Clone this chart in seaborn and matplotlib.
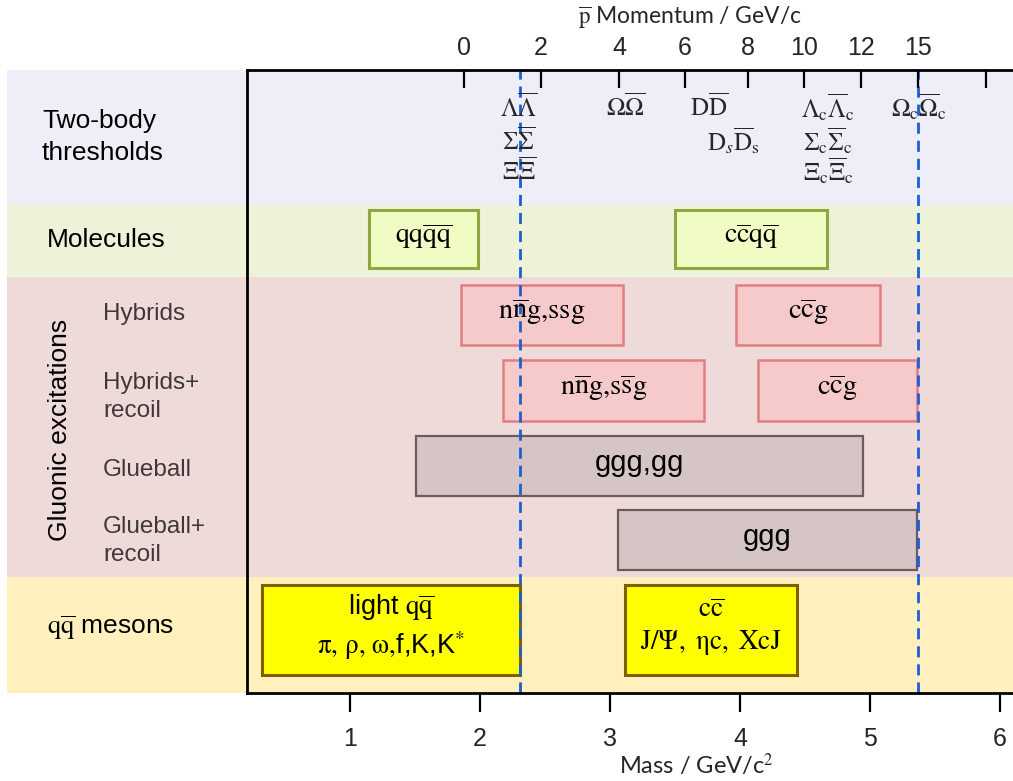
import numpy as np
import matplotlib
matplotlib.use("Agg")
import matplotlib.pyplot as plt
import seaborn as sns
from matplotlib.patches import Rectangle
from matplotlib.transforms import blended_transform_factory

# ---------------- data ----------------
# boxes: label, row, mass range (GeV/c^2), kind
box_labels = [r"$\mathrm{qq\overline{q}\overline{q}}$",
              r"$\mathrm{c\overline{c}q\overline{q}}$",
              r"$\mathrm{n\overline{n}g{,}ssg}$",
              r"$\mathrm{c\overline{c}g}$",
              r"$\mathrm{n\overline{n}g{,}s\overline{s}g}$",
              r"$\mathrm{c\overline{c}g}$",
              "ggg,gg",
              "ggg",
              "light " + r"$\mathrm{q\overline{q}}$" + "\n" + r"$\mathrm{\pi,\,\rho,\,\omega{,}}$" + "f,K,K$^{*}$",
              r"$\mathrm{c\overline{c}}$" + "\n" + r"$\mathrm{J/\Psi,\ \eta c,\ XcJ}$"]
box_rows = ["Molecules", "Molecules", "Hybrids", "Hybrids", "Hybrids+recoil",
            "Hybrids+recoil", "Glueball", "Glueball+recoil", "mesons", "mesons"]
box_start = [1.15, 3.50, 1.855, 3.97, 2.18, 4.14, 1.51, 3.06, 0.325, 3.115]
box_end = [1.985, 4.67, 3.10, 5.08, 3.72, 5.36, 4.95, 5.36, 2.31, 4.44]
box_kind = ["molecule", "molecule", "hybrid", "hybrid", "hybrid", "hybrid",
            "glue", "glue", "meson", "meson"]
box_fontsize = [20, 20, 20.5, 20.5, 20.5, 20.5, 21, 21, 19.5, 19.5]

# two-body threshold labels and their mass positions
thr_labels = [r"$\Lambda\overline{\Lambda}$", r"$\Sigma\overline{\Sigma}$", r"$\Xi\overline{\Xi}$",
              r"$\Omega\overline{\Omega}$", r"$\mathrm{D\overline{D}}$",
              r"$\mathrm{D}_{s}\overline{\mathrm{D}}_{\mathrm{s}}$",
              r"$\Lambda_{\mathrm{c}}\overline{\Lambda}_{\mathrm{c}}$",
              r"$\Sigma_{\mathrm{c}}\overline{\Sigma}_{\mathrm{c}}$",
              r"$\Xi_{\mathrm{c}}\overline{\Xi}_{\mathrm{c}}$",
              r"$\Omega_{\mathrm{c}}\overline{\Omega}_{\mathrm{c}}$"]
thr_mass = [2.30, 2.30, 2.30, 3.12, 3.76, 3.95, 4.68, 4.68, 4.68, 5.38]
thr_line = [0, 1, 2, 0, 0, 1, 0, 1, 2, 0]

# beam-momentum axis (GeV/c) and mass where each tick sits
p_labels = ["0", "2", "4", "6", "8", "10", "12", "15", ""]
p_mass = [1.877, 2.469, 3.069, 3.577, 4.062, 4.492, 4.931, 5.369, 5.892]

mass_ticks = [1, 2, 3, 4, 5, 6]
dashed_mass = [2.31, 5.37]

# ---------------- layout ----------------
row_center = {"Molecules": 239, "Hybrids": 315, "Hybrids+recoil": 390.5,
              "Glueball": 466, "Glueball+recoil": 540, "mesons": 630}
row_height = {"Molecules": 58, "Hybrids": 60, "Hybrids+recoil": 61,
              "Glueball": 60, "Glueball+recoil": 60, "mesons": 90}
thr_y = [107, 141, 171]
band_spans = [(69.5, 205), (205, 277), (277, 577), (577, 692.5)]
band_colors = ["#EEEEF8", "#EDF2D9", "#EFDADA", "#FFF0BE"]

styles = {
    "molecule": dict(fc="#F0FCC3", ec="#8DA83E", lw=2.2),
    "hybrid": dict(fc="#F6CACA", ec="#E07F7F", lw=1.8),
    "glue": dict(fc="#D6C5C5", ec="#6B5C5C", lw=1.6),
    "meson": dict(fc="#FFFF00", ec="#7F6000", lw=2.2),
}

sns.set_theme(style="white")
plt.rcParams["font.family"] = ["Liberation Sans", "DejaVu Sans"]
plt.rcParams["mathtext.fontset"] = "stix"

W, H = 1013, 781
fig = plt.figure(figsize=(W / 100, H / 100), dpi=100)
fig.patch.set_facecolor("white")
ax = fig.add_axes([247 / W, (H - 692.5) / H, (W - 247) / W, (692.5 - 69.5) / H])
ax.patch.set_visible(False)
ax.set_xlim(0.2077, 6.1)
ax.set_ylim(692.5, 69.5)

trans = blended_transform_factory(fig.transFigure, ax.transData)
for (y0, y1), c in zip(band_spans, band_colors):
    ax.add_patch(Rectangle((7 / W, y0), 1 - 7 / W, y1 - y0, transform=trans,
                           facecolor=c, edgecolor="none", clip_on=False, zorder=0))

# boxes
for lab, row, s, e, k, fs in zip(box_labels, box_rows, box_start, box_end, box_kind, box_fontsize):
    st = styles[k]
    yc = row_center[row]
    ax.barh(yc, e - s, left=s, height=row_height[row], color=st["fc"],
            edgecolor=st["ec"], linewidth=st["lw"], zorder=2)
    ax.text((s + e) / 2, yc - 3, lab, ha="center", va="center", fontsize=fs,
            color="black", zorder=4, linespacing=1.25)

# dashed lines
for m in dashed_mass:
    ax.axvline(m, color="#1A5FD6", lw=2, ls=(0, (4, 2.5)), zorder=3)

# threshold labels
for lab, m, li in zip(thr_labels, thr_mass, thr_line):
    ax.text(m, thr_y[li], lab, ha="center", va="center", fontsize=18, zorder=4)

# left labels
left_kw = dict(transform=trans, va="center", ha="left")
ax.text(42 / W, 137, "Two-body\nthresholds", fontsize=19, color="black",
        linespacing=1.4, **left_kw)
ax.text(47 / W, 240, "Molecules", fontsize=19, color="black", **left_kw)
ax.text(47 / W, 628, r"$\mathrm{q\overline{q}}$ mesons", fontsize=19, color="black", **left_kw)
sub_color = "#3F3838"
ax.text(103 / W, 314, "Hybrids", fontsize=17.5, color=sub_color, **left_kw)
ax.text(103 / W, 397, "Hybrids+\nrecoil", fontsize=17.5, color=sub_color, linespacing=1.35, **left_kw)
ax.text(103 / W, 470, "Glueball", fontsize=17.5, color=sub_color, **left_kw)
ax.text(103 / W, 541, "Glueball+\nrecoil", fontsize=17.5, color=sub_color, linespacing=1.35, **left_kw)
ax.text(60 / W, 430, "Gluonic excitations", fontsize=19, color="black", rotation=90,
        transform=trans, ha="center", va="center")

# axes / spines
for side in ["left", "top", "bottom"]:
    ax.spines[side].set_visible(True)
    ax.spines[side].set_color("black")
    ax.spines[side].set_linewidth(2)
    ax.spines[side].set_zorder(5)
ax.spines["right"].set_visible(False)
ax.set_yticks([])
ax.set_xticks(mass_ticks)
ax.set_xticklabels([str(t) for t in mass_ticks])
ax.tick_params(axis="x", which="major", direction="out", length=14, width=1.6,
               color="black", labelsize=18, pad=11, bottom=True)
ax.set_xlabel("Mass / GeV/c$^2$", fontsize=17, labelpad=0, family=["Lato", "DejaVu Sans"])
ax.xaxis.set_label_coords(0.587, -0.095)

ax2 = ax.twiny()
ax2.patch.set_visible(False)
ax2.set_xlim(ax.get_xlim())
for side in ax2.spines:
    ax2.spines[side].set_visible(False)
ax2.set_xticks(p_mass)
ax2.set_xticklabels(p_labels)
ax2.tick_params(axis="x", direction="in", length=13, width=1.6, color="black",
                labelsize=18, pad=7, top=True)
ax2.set_xlabel(r"$\mathrm{\overline{p}}$ Momentum / GeV/c", fontsize=16.5,
               family=["Lato", "DejaVu Sans"])
ax2.xaxis.set_label_coords(0.578, 1.072)

fig.savefig("out.png", dpi=100, facecolor="white")
